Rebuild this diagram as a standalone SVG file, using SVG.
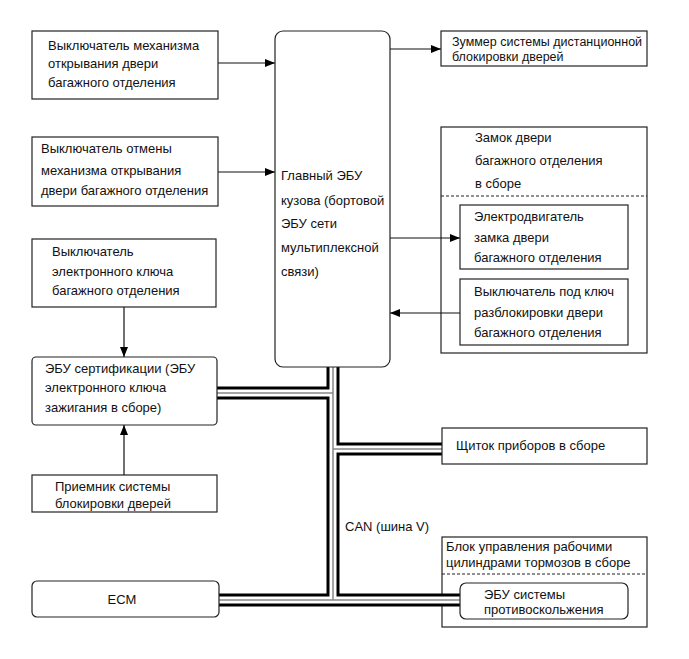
<svg xmlns="http://www.w3.org/2000/svg" width="689" height="659" viewBox="0 0 689 659">
<style>
  .box { fill: #fff; stroke: #222; stroke-width: 1.2; }
  .frame { fill: none; stroke: #222; stroke-width: 1.2; }
  .t { font-family: "Liberation Sans", Arial, sans-serif; font-size: 13px; fill: #111; }
  .ln { fill: none; stroke: #111; stroke-width: 1.2; }
  .dash { fill: none; stroke: #222; stroke-width: 1; stroke-dasharray: 3 2; }
  .busK { fill: none; stroke: #000; stroke-width: 13; }
  .busW { fill: none; stroke: #fff; stroke-width: 7; }
  .busG { fill: none; stroke: #888; stroke-width: 1.5; }
</style>
<defs>
  <marker id="ah" viewBox="0 0 10 8" refX="10" refY="4" markerWidth="10" markerHeight="8" markerUnits="userSpaceOnUse" orient="auto">
    <path d="M0,0 L10,4 L0,8 Z" fill="#000"/>
  </marker>
</defs>
<rect width="689" height="659" fill="#fff"/>

<g id="lock-assy">
  <rect class="frame" x="441" y="127" width="206" height="226"/>
  <text class="t" x="475" y="142">Замок двери</text>
  <text class="t" x="475" y="165">багажного отделения</text>
  <text class="t" x="475" y="188">в сборе</text>
  <path class="dash" d="M441,196 H647"/>
</g>

<g id="brake-assy">
  <rect class="frame" x="442" y="537" width="205" height="90"/>
  <text class="t" x="446" y="551">Блок управления рабочими</text>
  <text class="t" x="446" y="567">цилиндрами тормозов в сборе</text>
  <path class="dash" d="M442,574 H647"/>
</g>

<g id="connectors">
  <path class="ln" d="M218,63 H275" marker-end="url(#ah)"/>
  <path class="ln" d="M218,172 H275" marker-end="url(#ah)"/>
  <path class="ln" d="M390,49 H441" marker-end="url(#ah)"/>
  <path class="ln" d="M390,238 H460" marker-end="url(#ah)"/>
  <path class="ln" d="M460,313 H390" marker-end="url(#ah)"/>
  <path class="ln" d="M124,307 V357" marker-end="url(#ah)"/>
  <path class="ln" d="M124,475 V425" marker-end="url(#ah)"/>
  <g id="can-bus">
    <path class="busK" d="M333,367 V600 M217,393 H333 M333,449 H442 M219,600 H460"/>
    <path class="busW" d="M333,367 V600 M217,393 H333 M333,449 H442 M219,600 H460"/>
    <path class="busG" d="M333,367 V600 M217,393 H333 M333,449 H442 M219,600 H460"/>
  </g>
  <text class="t" x="345" y="531">CAN (шина V)</text>
</g>

<g id="sw-open">
  <rect class="box" x="32" y="31" width="186" height="68"/>
  <text class="t" x="48" y="50">Выключатель механизма</text>
  <text class="t" x="48" y="68">открывания двери</text>
  <text class="t" x="48" y="87">багажного отделения</text>
</g>

<g id="sw-cancel">
  <rect class="box" x="32" y="137" width="186" height="69"/>
  <text class="t" x="41" y="153">Выключатель отмены</text>
  <text class="t" x="41" y="175">механизма открывания</text>
  <text class="t" x="41" y="195">двери багажного отделения</text>
</g>

<g id="main-ecu">
  <rect class="box" x="275" y="31" width="115" height="336" rx="8"/>
  <text class="t" x="281" y="180">Главный ЭБУ</text>
  <text class="t" x="281" y="205">кузова (бортовой</text>
  <text class="t" x="281" y="228">ЭБУ сети</text>
  <text class="t" x="281" y="252">мультиплексной</text>
  <text class="t" x="281" y="276">связи)</text>
</g>

<g id="buzzer">
  <rect class="box" x="441" y="31" width="206" height="35"/>
  <text class="t" x="452" y="46" style="font-size:12.5px">Зуммер системы дистанционной</text>
  <text class="t" x="452" y="61" style="font-size:12.5px">блокировки дверей</text>
</g>

<g id="lock-motor">
  <rect class="box" x="460" y="205" width="168" height="64"/>
  <text class="t" x="474" y="221">Электродвигатель</text>
  <text class="t" x="474" y="242">замка двери</text>
  <text class="t" x="474" y="262">багажного отделения</text>
</g>

<g id="key-switch">
  <rect class="box" x="460" y="279" width="168" height="66"/>
  <text class="t" x="474" y="296">Выключатель под ключ</text>
  <text class="t" x="474" y="317">разблокировки двери</text>
  <text class="t" x="474" y="337">багажного отделения</text>
</g>

<g id="smart-key-sw">
  <rect class="box" x="32" y="239" width="184" height="68"/>
  <text class="t" x="52" y="256">Выключатель</text>
  <text class="t" x="52" y="276">электронного ключа</text>
  <text class="t" x="52" y="295">багажного отделения</text>
</g>

<g id="cert-ecu">
  <rect class="box" x="32" y="357" width="185" height="68" rx="4"/>
  <text class="t" x="45" y="373">ЭБУ сертификации (ЭБУ</text>
  <text class="t" x="45" y="392">электронного ключа</text>
  <text class="t" x="45" y="412">зажигания в сборе)</text>
</g>

<g id="receiver">
  <rect class="box" x="32" y="475" width="185" height="37"/>
  <text class="t" x="55" y="491">Приемник системы</text>
  <text class="t" x="55" y="508">блокировки дверей</text>
</g>

<g id="ecm">
  <rect class="box" x="32" y="581" width="187" height="36" rx="5"/>
  <text class="t" x="122" y="604" text-anchor="middle">ECM</text>
</g>

<g id="meter">
  <rect class="box" x="442" y="428" width="205" height="36"/>
  <text class="t" x="456" y="450">Щиток приборов в сборе</text>
</g>

<g id="abs-ecu">
  <rect class="box" x="460" y="583" width="168" height="36" rx="6"/>
  <text class="t" x="484" y="599">ЭБУ системы</text>
  <text class="t" x="484" y="614">противоскольжения</text>
</g>
</svg>
